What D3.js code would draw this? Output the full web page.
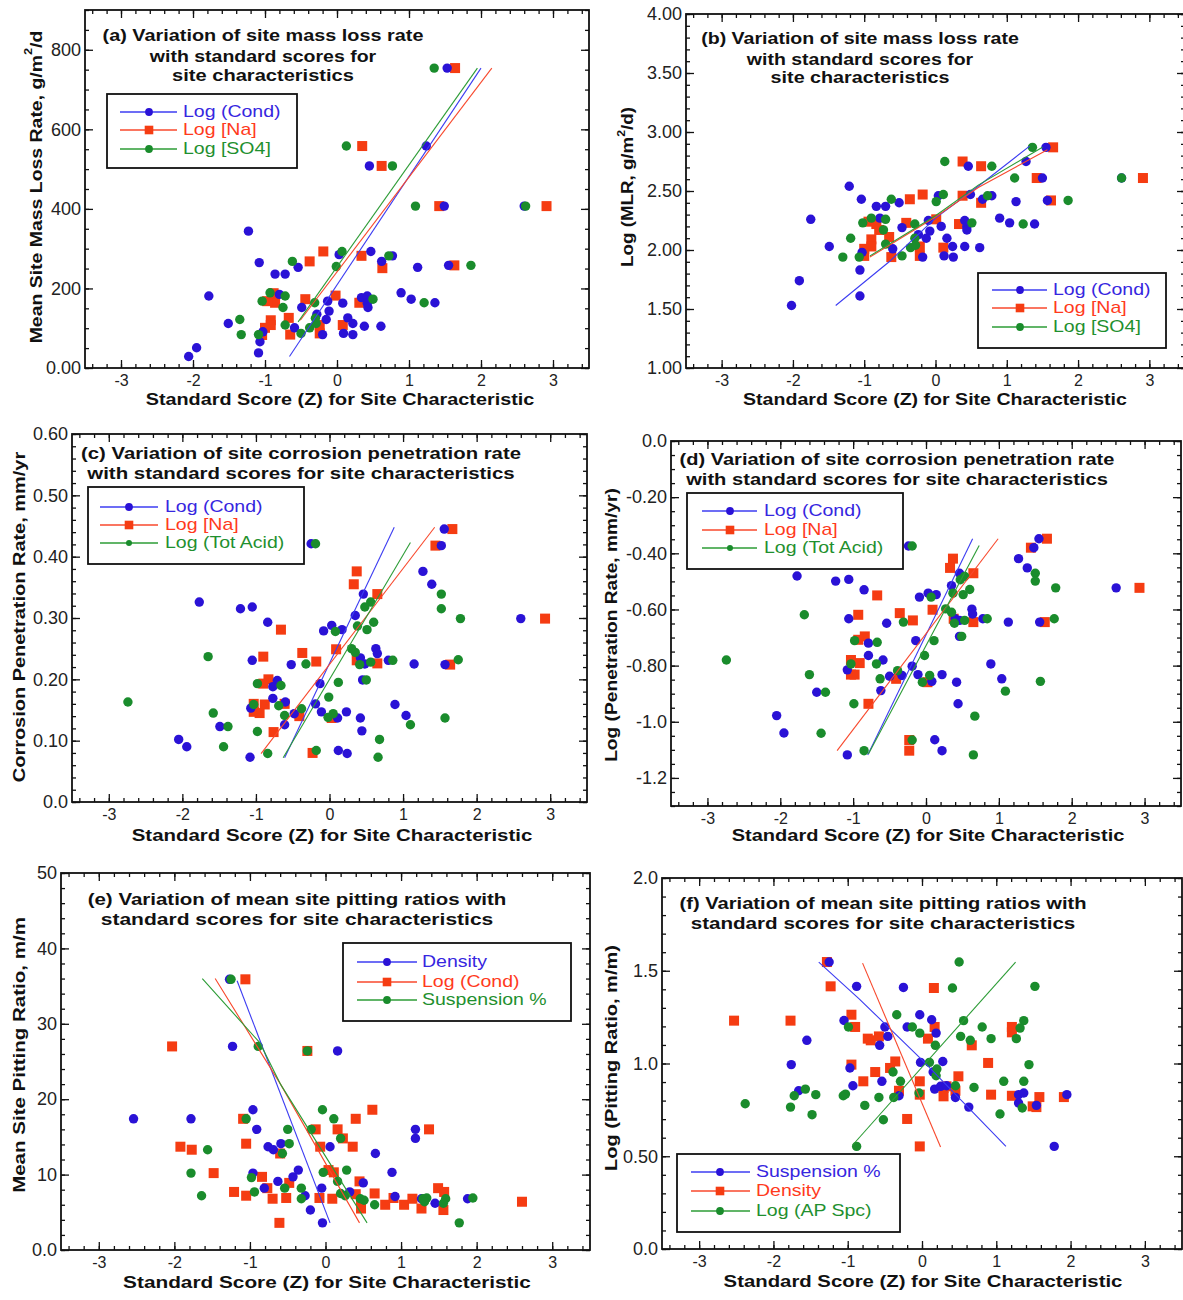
<!DOCTYPE html>
<html><head><meta charset="utf-8">
<script src="https://cdn.jsdelivr.net/npm/d3@7"></script>
<style>
body{margin:0;background:#fff;}
svg text{font-family:"Liberation Sans",Arial,Helvetica,sans-serif;}
</style></head><body>
<svg id="chart" width="1183" height="1300"></svg>
<script>
// ---------- tick labels ----------
const xTickValues = [-3,-2,-1,0,1,2,3];
const xTickLabels = ["-3","-2","-1","0","1","2","3"];
const aYTickValues = [0,200,400,600,800];
const aYTickLabels = ["0.00","200","400","600","800"];
const bYTickValues = [1,1.5,2,2.5,3,3.5,4];
const bYTickLabels = ["1.00","1.50","2.00","2.50","3.00","3.50","4.00"];
const cYTickValues = [0,0.1,0.2,0.3,0.4,0.5,0.6];
const cYTickLabels = ["0.0","0.10","0.20","0.30","0.40","0.50","0.60"];
const dYTickValues = [0,-0.2,-0.4,-0.6,-0.8,-1.0,-1.2];
const dYTickLabels = ["0.0","-0.20","-0.40","-0.60","-0.80","-1.0","-1.2"];
const eYTickValues = [0,10,20,30,40,50];
const eYTickLabels = ["0.0","10","20","30","40","50"];
const fYTickValues = [0,0.5,1,1.5,2];
const fYTickLabels = ["0.0","0.50","1.0","1.5","2.0"];

// ---------- series names ----------
const abNames = ["Log (Cond)","Log [Na]","Log [SO4]"];
const cdNames = ["Log (Cond)","Log [Na]","Log (Tot Acid)"];
const eNames = ["Density","Log (Cond)","Suspension %"];
const fNames = ["Suspension %","Density","Log (AP Spc)"];

// ---------- panel (a): mean site mass loss rate ----------
const a_cond = [[1.53,754],[1.24,558],[0.45,508],[1.49,407],[2.60,407],[-1.23,344],[-1.08,265],[-0.86,236],[-0.72,236],[-0.54,253],[0.03,285],[0.47,293],[0.62,268],[0.77,282],[1.12,253],[1.55,258],[-1.78,181],[-0.80,185],[0.89,189],[1.03,173],[1.36,164],[0.34,177],[0.42,181],[0.42,163],[0.43,152],[-0.13,168],[0.08,163],[-0.49,152],[-0.11,143],[-0.28,135],[-0.15,122],[0.15,126],[0.22,112],[0.38,105],[0.61,105],[-1.51,112],[-0.59,101],[0.09,87],[0.22,84],[-0.20,84],[-1.95,51],[-2.06,29],[-1.07,66],[-1.09,38],[-1.03,91]];
const a_na = [[1.64,754],[0.35,558],[0.62,508],[1.42,407],[2.91,407],[-0.19,293],[-0.38,268],[0.34,282],[0.63,251],[1.63,258],[-0.02,182],[-0.44,173],[0.31,164],[-0.86,164],[-0.97,168],[-0.67,126],[-0.92,120],[-0.92,108],[-1.00,101],[-1.04,83],[-0.65,84],[-0.24,87],[-0.24,108],[0.08,108],[-0.88,188]];
const a_so4 = [[1.35,754],[0.13,558],[0.77,508],[1.09,407],[2.62,407],[0.07,293],[-0.62,268],[-0.01,255],[0.72,282],[1.86,258],[-0.93,189],[-0.72,181],[-1.04,168],[-0.75,152],[-1.35,122],[-0.31,164],[0.50,173],[1.21,164],[-0.72,108],[-1.33,84],[-1.09,84],[-0.50,87],[-0.30,125],[-0.38,101],[-0.29,112]];
const a_cond_fit = [[-0.66,29],[2.0,754]];
const a_na_fit = [[-0.51,120],[2.15,754]];
const a_so4_fit = [[-0.54,116],[1.95,754]];

// ---------- panel (b): log MLR ----------
const b_cond = [[1.55,2.87],[1.27,2.75],[0.46,2.71],[1.50,2.61],[2.61,2.61],[-1.21,2.54],[-1.04,2.43],[-0.83,2.37],[-0.70,2.37],[-0.51,2.40],[0.04,2.46],[0.49,2.47],[0.66,2.43],[0.79,2.46],[1.13,2.41],[1.57,2.42],[-1.75,2.26],[-0.78,2.27],[0.90,2.27],[1.04,2.23],[1.39,2.22],[0.41,2.25],[0.44,2.20],[0.44,2.17],[-0.10,2.25],[0.08,2.20],[-0.47,2.19],[-0.08,2.16],[-0.24,2.13],[-0.13,2.10],[0.16,2.10],[0.24,2.03],[0.41,2.03],[0.62,2.02],[-1.49,2.03],[-0.60,2.01],[0.12,1.95],[0.25,1.94],[-0.18,1.94],[-1.91,1.74],[-2.02,1.53],[-1.06,1.83],[-1.06,1.61],[-1.03,1.98]];
const b_na = [[1.65,2.87],[0.38,2.75],[0.64,2.71],[1.42,2.61],[2.91,2.61],[-0.18,2.47],[-0.36,2.43],[0.38,2.46],[0.64,2.40],[1.62,2.42],[0.01,2.26],[-0.41,2.23],[0.33,2.22],[-0.83,2.22],[-0.94,2.24],[-0.65,2.11],[-0.90,2.09],[-0.90,2.03],[-1.00,2.01],[-1.00,1.95],[-0.62,1.94],[-0.22,1.95],[-0.22,2.03],[0.11,2.02],[-0.79,2.17]];
const b_so4 = [[1.36,2.87],[0.13,2.75],[0.79,2.71],[1.11,2.61],[2.61,2.61],[0.11,2.47],[-0.62,2.43],[0.01,2.41],[0.73,2.46],[1.86,2.42],[-0.90,2.27],[-0.70,2.26],[-1.02,2.23],[-0.73,2.17],[-1.19,2.10],[-0.29,2.22],[0.51,2.23],[1.23,2.22],[-0.70,2.05],[-1.30,1.94],[-1.07,1.94],[-0.47,1.95],[-0.29,2.10],[-0.35,2.02],[-0.28,2.04]];
const b_cond_fit = [[-1.40,1.53],[-0.65,1.90],[0,2.27],[0.6,2.54],[1.32,2.88]];
const b_na_fit = [[-0.92,1.94],[0,2.28],[0.6,2.53],[1.57,2.85]];
const b_so4_fit = [[-0.92,1.95],[0,2.29],[0.6,2.55],[1.50,2.87]];

// ---------- panel (c): corrosion penetration rate ----------
const c_cond = [[1.56,0.445],[1.52,0.418],[-0.25,0.421],[1.27,0.376],[1.39,0.355],[-1.77,0.326],[-1.21,0.315],[-1.05,0.318],[-0.84,0.293],[0.35,0.304],[0.46,0.339],[0.03,0.288],[-0.08,0.279],[0.17,0.281],[2.60,0.299],[-1.05,0.231],[-0.52,0.224],[0.63,0.250],[0.65,0.242],[0.42,0.235],[0.48,0.225],[0.80,0.231],[1.15,0.225],[1.57,0.224],[-0.13,0.193],[-0.71,0.198],[-0.77,0.188],[-0.77,0.169],[-0.60,0.163],[-0.19,0.160],[0.45,0.199],[-1.07,0.153],[-0.11,0.147],[-0.48,0.144],[0.11,0.137],[0.23,0.147],[0.42,0.137],[0.89,0.159],[1.04,0.141],[-1.49,0.123],[-0.61,0.126],[0.44,0.116],[-2.05,0.102],[-1.94,0.090],[-1.08,0.073],[0.12,0.084],[0.24,0.079]];
const c_na = [[1.67,0.445],[1.44,0.418],[0.37,0.376],[0.33,0.355],[0.65,0.339],[-0.66,0.281],[2.93,0.299],[0.09,0.249],[-0.37,0.243],[-0.18,0.229],[-0.90,0.237],[0.37,0.231],[0.65,0.226],[1.64,0.224],[-0.83,0.200],[-0.90,0.193],[-1.03,0.160],[-0.88,0.159],[-1.03,0.147],[-0.95,0.145],[-0.61,0.160],[-0.41,0.140],[0.03,0.137],[-0.76,0.114],[-0.23,0.080]];
const c_acid = [[-0.19,0.421],[1.52,0.339],[1.52,0.315],[1.78,0.299],[0.56,0.326],[0.48,0.318],[0.38,0.287],[0.60,0.293],[0.51,0.281],[0.08,0.278],[0.30,0.250],[0.35,0.244],[0.41,0.224],[0.56,0.228],[0.86,0.231],[1.75,0.232],[-0.32,0.225],[-1.65,0.237],[-0.98,0.193],[-0.66,0.190],[0.12,0.195],[0.50,0.199],[-1.03,0.159],[-0.69,0.157],[-0.61,0.141],[-0.38,0.152],[-0.01,0.171],[-0.02,0.138],[0.05,0.144],[1.10,0.126],[1.57,0.137],[-2.74,0.163],[-1.58,0.145],[-1.38,0.123],[-1.44,0.090],[-0.98,0.115],[-0.84,0.079],[-0.18,0.084],[0.68,0.102],[0.66,0.073]];
const c_cond_fit = [[-0.61,0.072],[0.88,0.448]];
const c_na_fit = [[-0.93,0.079],[1.43,0.448]];
const c_acid_fit = [[-0.63,0.072],[1.10,0.423]];

// ---------- panel (d): log penetration rate ----------
const d_cond = [[1.55,-0.348],[1.48,-0.380],[-0.24,-0.374],[1.27,-0.419],[1.39,-0.452],[-1.77,-0.481],[-1.24,-0.499],[-1.06,-0.493],[-0.85,-0.530],[0.35,-0.515],[0.46,-0.471],[0.03,-0.542],[-0.09,-0.556],[0.14,-0.547],[2.61,-0.523],[-1.06,-0.633],[-0.54,-0.649],[0.63,-0.599],[0.64,-0.616],[0.40,-0.633],[0.46,-0.639],[0.78,-0.633],[1.13,-0.645],[1.56,-0.645],[-0.14,-0.711],[-0.79,-0.720],[-0.79,-0.764],[-0.59,-0.780],[-0.33,-0.835],[0.46,-0.696],[-1.08,-0.815],[-0.11,-0.832],[-0.50,-0.838],[0.08,-0.856],[0.22,-0.832],[0.42,-0.859],[0.89,-0.794],[1.04,-0.847],[-1.50,-0.895],[-0.62,-0.889],[0.44,-0.936],[-2.05,-0.978],[-1.95,-1.040],[-1.08,-1.118],[0.12,-1.064],[0.22,-1.103],[-0.19,-0.802]];
const d_na = [[1.66,-0.348],[1.44,-0.380],[0.37,-0.419],[0.33,-0.452],[0.65,-0.471],[-0.67,-0.550],[2.93,-0.523],[0.09,-0.601],[-0.36,-0.613],[-0.18,-0.639],[-0.93,-0.619],[0.38,-0.633],[0.65,-0.645],[1.63,-0.645],[-0.84,-0.696],[-0.93,-0.708],[-1.03,-0.780],[-0.91,-0.791],[-1.03,-0.832],[-0.98,-0.832],[-0.41,-0.847],[0.02,-0.859],[-0.79,-0.936],[-0.23,-1.065],[-0.23,-1.103]];
const d_acid = [[-0.19,-0.374],[1.50,-0.471],[1.50,-0.499],[1.78,-0.523],[0.53,-0.482],[0.47,-0.494],[0.37,-0.542],[0.51,-0.547],[0.60,-0.529],[0.07,-0.556],[0.27,-0.598],[0.35,-0.610],[0.39,-0.649],[0.53,-0.639],[0.84,-0.633],[1.76,-0.633],[-0.31,-0.645],[-1.67,-0.619],[-0.98,-0.711],[-0.67,-0.717],[0.11,-0.711],[0.49,-0.696],[-1.03,-0.794],[-0.68,-0.794],[-0.63,-0.847],[-0.39,-0.818],[-0.02,-0.764],[-0.05,-0.859],[0.05,-0.835],[1.09,-0.891],[1.57,-0.856],[-2.74,-0.780],[-1.60,-0.832],[-1.38,-0.895],[-1.44,-1.041],[-0.99,-0.936],[-0.85,-1.103],[-0.19,-1.065],[0.67,-0.980],[0.65,-1.118]];
const d_cond_fit = [[-0.80,-1.118],[0.64,-0.348]];
const d_na_fit = [[-1.22,-1.103],[0.99,-0.348]];
const d_acid_fit = [[-0.79,-1.115],[0.73,-0.372]];

// ---------- panel (e): mean site pitting ratio ----------
const e_density = [[-1.27,35.9],[-1.23,27.0],[0.16,26.4],[-2.54,17.4],[-1.78,17.4],[-0.96,18.6],[-0.91,16.0],[1.19,16.0],[1.19,14.8],[-0.76,13.7],[-0.69,13.3],[-0.59,14.1],[0.06,13.7],[0.66,12.8],[-0.96,10.2],[-0.36,10.6],[-0.43,9.7],[-0.63,9.1],[0.88,10.3],[0.50,8.9],[-0.05,8.2],[0.32,7.7],[-0.81,8.2],[-0.27,7.2],[0.92,7.1],[1.27,6.8],[1.45,6.2],[1.88,6.8],[-0.20,5.3],[-0.04,3.6]];
const e_cond = [[-1.06,35.9],[-2.03,27.0],[-0.24,26.4],[-1.09,17.4],[0.62,18.6],[0.40,17.4],[-0.13,16.0],[0.16,16.0],[1.37,16.0],[0.23,14.8],[-1.92,13.7],[-1.77,13.3],[-1.05,14.1],[-0.07,13.7],[0.36,13.7],[-0.60,12.8],[-1.48,10.2],[0.04,10.6],[0.11,10.3],[-0.84,9.7],[-0.48,8.9],[0.45,9.1],[-0.77,8.2],[-1.21,7.7],[-1.05,7.2],[-0.70,6.8],[-0.52,6.9],[-0.08,6.9],[0.09,6.8],[0.40,7.4],[0.65,7.5],[0.90,6.9],[0.79,6.0],[1.04,6.0],[1.15,6.8],[1.49,8.2],[1.57,7.7],[1.27,5.5],[1.56,5.3],[0.47,5.5],[2.60,6.4],[-0.61,3.6],[0.47,6.4]];
const e_susp = [[-1.25,35.9],[-0.89,27.0],[-0.24,26.4],[-1.05,17.4],[-0.04,18.6],[0.11,17.4],[-0.50,16.0],[-0.19,16.0],[0.20,14.8],[-1.56,13.3],[-0.48,14.1],[-0.57,12.8],[-1.78,10.2],[-0.03,10.3],[0.28,10.6],[-0.98,9.6],[0.16,9.1],[-0.54,8.2],[-0.32,8.2],[-0.94,7.7],[-1.64,7.2],[0.20,7.5],[0.26,7.2],[-0.32,6.8],[0.46,6.8],[0.51,6.6],[0.65,6.0],[1.29,6.8],[1.34,6.9],[1.31,6.4],[1.59,6.8],[1.56,6.2],[1.95,6.9],[1.77,3.6]];
const e_density_fit = [[-1.17,35.7],[0.06,3.6]];
const e_cond_fit = [[-1.46,36.0],[-0.59,21.9],[0.45,3.6]];
const e_susp_fit = [[-1.63,36.0],[-0.87,27.5],[-0.59,21.9],[0.55,3.6]];

// ---------- panel (f): log pitting ratio ----------
const f_susp = [[-1.25,1.547],[-0.88,1.416],[-0.25,1.410],[-0.03,1.263],[0.13,1.236],[0.19,1.164],[-1.05,1.232],[-0.50,1.197],[-0.20,1.197],[-0.46,1.146],[-1.55,1.125],[-0.57,1.098],[-1.76,0.994],[-0.97,0.976],[-0.02,1.006],[0.28,1.011],[0.15,0.954],[-0.54,0.904],[-0.93,0.880],[-1.66,0.853],[0.17,0.862],[-0.31,0.826],[0.25,0.877],[0.33,0.880],[0.45,0.817],[0.63,0.765],[1.30,0.832],[1.37,0.841],[1.30,0.787],[1.54,0.774],[1.95,0.832],[1.78,0.553]];
const f_density = [[-1.28,1.547],[-1.23,1.416],[0.16,1.407],[-2.53,1.231],[-1.77,1.231],[-0.95,1.263],[-0.90,1.197],[0.17,1.197],[1.21,1.197],[1.21,1.168],[0.08,1.134],[-0.73,1.134],[-0.69,1.125],[-0.58,1.146],[0.67,1.098],[-0.36,1.011],[-0.43,0.976],[-0.95,0.994],[0.89,1.003],[-0.63,0.954],[-0.79,0.904],[-0.03,0.904],[0.49,0.931],[-0.31,0.853],[-0.03,0.832],[0.29,0.868],[0.33,0.877],[0.29,0.823],[0.45,0.853],[0.93,0.832],[1.21,0.826],[1.49,0.769],[1.54,0.765],[1.58,0.819],[1.91,0.819],[-0.20,0.701],[-0.03,0.553]];
const f_apspc = [[0.50,1.547],[0.41,1.407],[1.52,1.416],[-0.34,1.263],[0.56,1.231],[-0.99,1.197],[-0.13,1.197],[0.81,1.197],[1.37,1.231],[1.32,1.191],[-0.03,1.164],[0.52,1.146],[0.93,1.134],[1.27,1.134],[0.65,1.125],[0.18,1.098],[0.10,1.006],[0.20,0.970],[0.19,0.934],[-0.39,0.954],[-0.29,0.904],[1.10,0.904],[1.37,0.904],[1.44,0.994],[-1.57,0.862],[-1.72,0.826],[-1.43,0.832],[-1.06,0.826],[-1.03,0.835],[-0.38,0.817],[-0.58,0.817],[-0.04,0.841],[0.45,0.880],[0.70,0.871],[-2.38,0.783],[-1.77,0.765],[-1.48,0.724],[-0.77,0.774],[-0.52,0.697],[1.05,0.728],[1.35,0.760],[-0.88,0.553]];
const f_susp_fit = [[-1.39,1.547],[-0.85,1.35],[0,1.02],[1.13,0.553]];
const f_density_fit = [[-0.80,1.541],[0.25,0.550]];
const f_apspc_fit = [[-0.93,0.562],[1.26,1.547]];

// ---------- styling ----------
const COL = {blue:"#2a12d6", red:"#f53c12", green:"#1a8c2c"};
const LINECOL = {blue:"#3c3cf2", red:"#f8482c", green:"#2c9c36"};
const TXTCOL = {blue:"#3626e0", red:"#ff3a1c", green:"#1f902f"};
const seriesStyle = [
  {c:"blue", shape:"circle"},
  {c:"red", shape:"square"},
  {c:"green", shape:"circle"}
];

const panels = [
  {x0:85,x1:589,y0:10,y1:368, yDom:[0,900], yTicks:aYTickValues, yLabels:aYTickLabels, yMinor:50,
   series:[a_cond,a_na,a_so4], fits:[a_cond_fit,a_na_fit,a_so4_fit], names:abNames,
   title:{cx:263, ys:[35,55,75], lines:["(a) Variation of site mass loss rate","with standard scores for","site characteristics"], w:[321,228,182]},
   legend:{box:[107,94,297,168], ys:[112,130,149], lx:[120,177], mx:149, tx:183},
   xTitle:{cx:340,cy:399,w:389}, yTitle:{cx:35,cy:187,w:313, parts:[["Mean Site Mass Loss Rate, g/m",0],["2",1],["/d",0]]}},
  {x0:686,x1:1185,y0:14,y1:368, yDom:[1,4], yTicks:bYTickValues, yLabels:bYTickLabels, yMinor:0.1,
   series:[b_cond,b_na,b_so4], fits:[b_cond_fit,b_na_fit,b_so4_fit], names:abNames,
   title:{cx:860, ys:[38,58,77], lines:["(b) Variation of site mass loss rate","with standard scores for","site characteristics"], w:[318,228,179]},
   legend:{box:[978,273,1166,348], ys:[290,308,327], lx:[992,1047], mx:1020, tx:1053},
   xTitle:{cx:935,cy:399,w:384}, yTitle:{cx:627,cy:187,w:160, parts:[["Log (MLR, g/m",0],["2",1],["/d)",0]]}},
  {x0:72,x1:587,y0:434,y1:802, yDom:[0,0.6], yTicks:cYTickValues, yLabels:cYTickLabels, yMinor:0.02,
   series:[c_cond,c_na,c_acid], fits:[c_cond_fit,c_na_fit,c_acid_fit], names:cdNames,
   title:{cx:301, ys:[453,473], lines:["(c) Variation of site corrosion penetration rate","with standard scores for site characteristics"], w:[440,429]},
   legend:{box:[88,487,304,564], ys:[507,525,543], lx:[100,158], mx:129, tx:165, smallLast:true},
   xTitle:{cx:332,cy:835,w:401}, yTitle:{cx:19,cy:617,w:331, parts:[["Corrosion Penetration Rate, mm/yr",0]]}},
  {x0:671,x1:1181,y0:441,y1:806, yDom:[-1.3,0], yTicks:dYTickValues, yLabels:dYTickLabels, yMinor:0.05,
   series:[d_cond,d_na,d_acid], fits:[d_cond_fit,d_na_fit,d_acid_fit], names:cdNames,
   title:{cx:897, ys:[459,479], lines:["(d) Variation of site corrosion penetration rate","with standard scores for site characteristics"], w:[435,423]},
   legend:{box:[687,493,903,569], ys:[511,530,548], lx:[702,757], mx:730, tx:764, smallLast:true},
   xTitle:{cx:928,cy:835,w:393}, yTitle:{cx:611,cy:625,w:274, parts:[["Log (Penetration Rate, mm/yr)",0]]}},
  {x0:61,x1:590,y0:873,y1:1250, yDom:[0,50], yTicks:eYTickValues, yLabels:eYTickLabels, yMinor:2,
   series:[e_density,e_cond,e_susp], fits:[e_density_fit,e_cond_fit,e_susp_fit], names:eNames,
   title:{cx:297, ys:[899,919], lines:["(e) Variation of mean site pitting ratios with","standard scores for site characteristics"], w:[419,393]},
   legend:{box:[343,943,571,1021], ys:[962,982,1000], lx:[357,417], mx:387, tx:422},
   xTitle:{cx:327,cy:1282,w:408}, yTitle:{cx:19,cy:1055,w:276, parts:[["Mean Site Pitting Ratio, m/m",0]]}},
  {x0:662,x1:1182,y0:878,y1:1249, yDom:[0,2], yTicks:fYTickValues, yLabels:fYTickLabels, yMinor:0.1,
   series:[f_susp,f_density,f_apspc], fits:[f_susp_fit,f_density_fit,f_apspc_fit], names:fNames,
   title:{cx:883, ys:[903,923], lines:["(f) Variation of mean site pitting ratios with","standard scores for site characteristics"], w:[407,385]},
   legend:{box:[677,1154,900,1232], ys:[1172,1191,1211], lx:[691,750], mx:720, tx:756},
   xTitle:{cx:923,cy:1281,w:399}, yTitle:{cx:611,cy:1058,w:226, parts:[["Log (Pitting Ratio, m/m)",0]]}}
];

const svg = d3.select("#chart");
const xDomain = [-3.5, 3.5];
const xMinorTicks = d3.range(-17, 18).map(i => i / 5);

function placeText(parent, o) {
  const g = parent.append("g").attr("transform", `translate(${o.x},${o.y})` + (o.rot ? ` rotate(${o.rot})` : ""));
  const t = g.append("text")
    .attr("text-anchor", o.anchor || "middle")
    .attr("dominant-baseline", "central")
    .attr("font-size", o.size)
    .attr("font-weight", o.weight || "normal")
    .attr("fill", o.fill || "#111");
  const parts = o.parts || [[o.text, 0]];
  parts.forEach(p => {
    const ts = t.append("tspan").text(p[0]);
    if (p[1]) ts.attr("baseline-shift", "super").attr("font-size", o.size * 0.65);
  });
  if (o.w) {
    const bw = t.node().getBBox().width;
    if (bw > 0) t.attr("transform", `scale(${o.w / bw},1)`);
  } else if (o.sx) {
    t.attr("transform", `scale(${o.sx},1)`);
  }
  return t;
}

function marker(g, shape, cx, cy, color, size) {
  if (shape === "square") {
    g.append("rect").attr("x", cx - size).attr("y", cy - size)
      .attr("width", size * 2).attr("height", size * 2).attr("fill", color);
  } else {
    g.append("circle").attr("cx", cx).attr("cy", cy).attr("r", size).attr("fill", color);
  }
}

function drawPanel(p) {
  const g = svg.append("g");
  const x = d3.scaleLinear().domain(xDomain).range([p.x0, p.x1]);
  const y = d3.scaleLinear().domain(p.yDom).range([p.y1, p.y0]);
  const yMinorTicks = d3.range(Math.round(p.yDom[0] / p.yMinor), Math.round(p.yDom[1] / p.yMinor) + 1).map(i => +(i * p.yMinor).toFixed(4));

  const tickStyle = sel => {
    sel.select(".domain").remove();
    sel.selectAll(".tick line").attr("stroke", "#111").attr("stroke-width", 1.3);
  };
  g.append("g").attr("transform", `translate(0,${p.y1})`).call(d3.axisBottom(x).tickValues(xMinorTicks).tickSize(-4).tickFormat("")).call(tickStyle);
  g.append("g").attr("transform", `translate(0,${p.y0})`).call(d3.axisTop(x).tickValues(xMinorTicks).tickSize(-4).tickFormat("")).call(tickStyle);
  g.append("g").attr("transform", `translate(${p.x0},0)`).call(d3.axisLeft(y).tickValues(yMinorTicks).tickSize(-4).tickFormat("")).call(tickStyle);
  g.append("g").attr("transform", `translate(${p.x1},0)`).call(d3.axisRight(y).tickValues(yMinorTicks).tickSize(-4).tickFormat("")).call(tickStyle);
  const xb = g.append("g").attr("transform", `translate(0,${p.y1})`)
    .call(d3.axisBottom(x).tickValues(xTickValues).tickSize(-8).tickPadding(7).tickFormat((d, i) => xTickLabels[i]))
    .call(tickStyle);
  xb.selectAll("text").attr("font-family", "'Liberation Sans Narrow','Liberation Sans',Arial,sans-serif").attr("font-size", 16).attr("fill", "#222");
  g.append("g").attr("transform", `translate(0,${p.y0})`).call(d3.axisTop(x).tickValues(xTickValues).tickSize(-8).tickFormat("")).call(tickStyle);
  const yl = g.append("g").attr("transform", `translate(${p.x0},0)`)
    .call(d3.axisLeft(y).tickValues(p.yTicks).tickSize(-8).tickPadding(4).tickFormat((d, i) => p.yLabels[i]))
    .call(tickStyle);
  yl.selectAll("text").attr("font-family", "'Liberation Sans Narrow','Liberation Sans',Arial,sans-serif").attr("font-size", 18).attr("fill", "#222");
  g.append("g").attr("transform", `translate(${p.x1},0)`).call(d3.axisRight(y).tickValues(p.yTicks).tickSize(-8).tickFormat("")).call(tickStyle);

  g.append("rect").attr("x", p.x0).attr("y", p.y0).attr("width", p.x1 - p.x0).attr("height", p.y1 - p.y0)
    .attr("fill", "none").attr("stroke", "#111").attr("stroke-width", 1.8);

  [1, 0, 2].forEach(si => {
    const st = seriesStyle[si];
    const data = p.series[si];
    if (st.shape === "square") {
      g.append("g").selectAll("rect").data(data).join("rect")
        .attr("x", d => x(d[0]) - 5).attr("y", d => y(d[1]) - 5)
        .attr("width", 10).attr("height", 10).attr("fill", COL[st.c]);
    } else {
      g.append("g").selectAll("circle").data(data).join("circle")
        .attr("cx", d => x(d[0])).attr("cy", d => y(d[1])).attr("r", 4.7).attr("fill", COL[st.c]);
    }
  });
  const line = d3.line().x(d => x(d[0])).y(d => y(d[1]));
  p.fits.forEach((f, si) => {
    g.append("path").attr("d", line(f)).attr("fill", "none")
      .attr("stroke", LINECOL[seriesStyle[si].c]).attr("stroke-width", 1.1);
  });

  p.title.lines.forEach((t, i) => {
    placeText(g, {x: p.title.cx, y: p.title.ys[i], text: t, size: 17, weight: "bold", w: p.title.w[i]});
  });

  const L = p.legend;
  g.append("rect").attr("x", L.box[0]).attr("y", L.box[1]).attr("width", L.box[2] - L.box[0]).attr("height", L.box[3] - L.box[1])
    .attr("fill", "#fff").attr("stroke", "#111").attr("stroke-width", 1.8);
  p.names.forEach((nm, i) => {
    const st = seriesStyle[i];
    g.append("line").attr("x1", L.lx[0]).attr("x2", L.lx[1]).attr("y1", L.ys[i]).attr("y2", L.ys[i])
      .attr("stroke", LINECOL[st.c]).attr("stroke-width", 1.5);
    const sz = st.shape === "square" ? 4.3 : ((L.smallLast && i === 2) ? 3 : 3.9);
    marker(g, st.shape, L.mx, L.ys[i], COL[st.c], sz);
    placeText(g, {x: L.tx, y: L.ys[i], text: nm, size: 16, anchor: "start", fill: TXTCOL[st.c], sx: 1.22});
  });

  placeText(g, {x: p.xTitle.cx, y: p.xTitle.cy, text: "Standard Score (Z) for Site Characteristic", size: 17, weight: "bold", w: p.xTitle.w});
  placeText(g, {x: p.yTitle.cx, y: p.yTitle.cy, rot: -90, parts: p.yTitle.parts, size: 17, weight: "bold", w: p.yTitle.w});
}

panels.forEach(drawPanel);
</script>
</body></html>
